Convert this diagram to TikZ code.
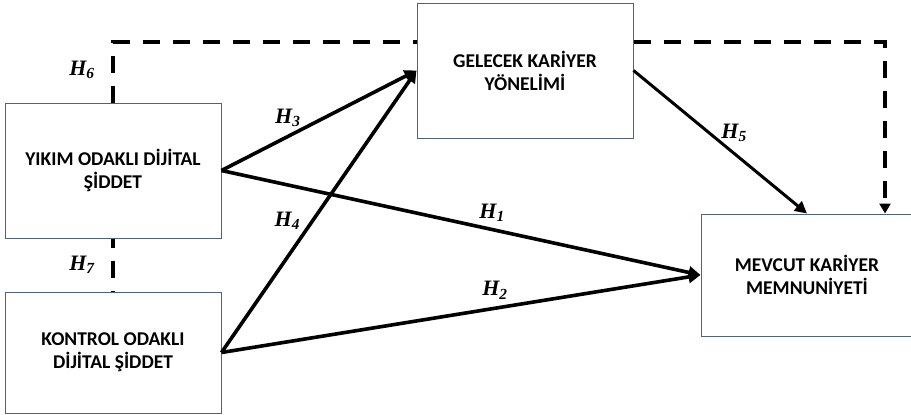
\documentclass[tikz,border=0pt]{standalone}
\usepackage{fontspec}
\setmainfont{Carlito}
\newfontfamily\hypfont{Liberation Serif}
\usetikzlibrary{arrows.meta}
\definecolor{boxline}{RGB}{78,98,130}
\tikzset{
  varbox/.style={draw=boxline, line width=1pt, fill=white, minimum width=216pt,
    align=center, inner sep=0pt, font=\fontsize{19.5}{23}\selectfont\bfseries},
  path/.style={line width=3.6pt, -{Triangle[length=12pt,width=12pt]}},
  dashlink/.style={line width=3.8pt, dash pattern=on 17pt off 13pt},
  hyp/.style={font=\hypfont\fontsize{22}{24}\selectfont\bfseries\itshape, inner sep=0pt}
}
\newcommand{\hyp}[1]{H\textsubscript{#1}}
\begin{document}
\begin{tikzpicture}[x=1pt,y=-1pt]

        \useasboundingbox (0,0) rectangle (911,415);

        \coordinate (hline) at (0,42);

        % dashed moderation paths (drawn first, boxes cover them)
        \node[varbox, minimum height=135pt] (A) at (113,170.5) {YIKIM ODAKLI DİJİTAL\\ŞİDDET};
        \node[varbox, minimum height=121pt] (B) at (113,352.5) {KONTROL ODAKLI\\DİJİTAL ŞİDDET};
        \node[varbox, minimum height=135pt] (C) at (525,70.5) {GELECEK KARİYER\\YÖNELİMİ};
        \node[varbox, minimum height=122pt, minimum width=212pt] (D) at (807,275) {MEVCUT KARİYER\\MEMNUNİYETİ};

        \coordinate (Din) at ([xshift=78pt]D.north);

        \draw[dashlink] (A.north) -- node[hyp, pos=0.54, xshift=-31pt] (H6) {\hyp{6}} (A.north |- hline) -- (C.west |- hline);
        \draw[dashlink, -{Triangle[length=10pt,width=11pt]}] (C.east |- hline) -| (Din);

        \draw[dashlink, dash phase=8pt] (A.south) -- node[hyp, pos=0.5, xshift=-31pt] (H7) {\hyp{7}} (B.north);

        \draw[path] (A.east) -- node[hyp, pos=0.34, yshift=19pt] (H3) {\hyp{3}} (C.west);
        \draw[path] (B.east) -- node[hyp, pos=0.466, xshift=-25pt] (H4) {\hyp{4}} (C.west);
        \draw[path] (A.east) -- node[hyp, pos=0.565, yshift=17pt] (H1) {\hyp{1}} (D.west);
        \draw[path] (B.east) -- node[hyp, pos=0.571, yshift=18pt] (H2) {\hyp{2}} (D.west);
        \draw[path, line width=3pt] (C.east) -- node[hyp, pos=0.58, yshift=21pt] (H5) {\hyp{5}} (D.north);

        \end{tikzpicture}
\end{document}
